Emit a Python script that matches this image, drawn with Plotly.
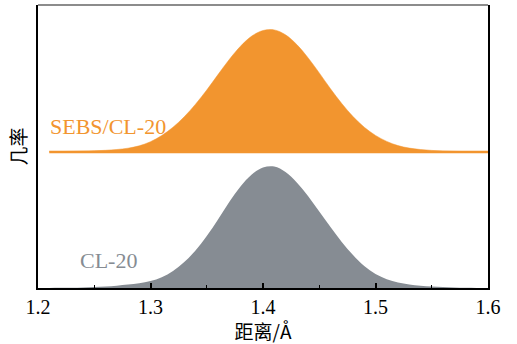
import plotly.graph_objects as go

# Bond-length grid (Å)
distance = [1.20, 1.21, 1.22, 1.23, 1.24, 1.25, 1.26, 1.27, 1.28, 1.29,
            1.30, 1.31, 1.32, 1.33, 1.34, 1.35, 1.36, 1.37, 1.38, 1.39,
            1.40, 1.41, 1.42, 1.43, 1.44, 1.45, 1.46, 1.47, 1.48, 1.49,
            1.50, 1.51, 1.52, 1.53, 1.54, 1.55, 1.56, 1.57, 1.58, 1.59, 1.60]

# Relative probability (arbitrary units)
prob_cl20 = [0, 0.1, 0.2, 0.35, 0.6, 1.0, 1.5, 2.3, 3.4, 4.8,
             7.0, 10.8, 17.0, 26.0, 37.5, 52.0, 68.5, 86.0, 101.5, 113.5,
             120.5, 121.5, 116, 105.5, 92, 76.5, 61, 46, 33, 22,
             14, 8.8, 5.6, 3.6, 2.3, 1.5, 0.95, 0.55, 0.3, 0.12, 0]

prob_sebs = [0, 0.3, 0.45, 0.65, 0.9, 1.2, 1.7, 2.5, 3.8, 6.2,
             10.3, 16.5, 24.8, 35.2, 47.8, 62, 77.4, 92.5, 105.8, 115.9,
             121.5, 122.1, 117.2, 107.5, 94.3, 79.1, 63.2, 48.5, 35.5, 24.8,
             16.6, 10.6, 6.4, 3.9, 2.5, 1.6, 1.0, 0.65, 0.4, 0.25, 0.15]

sebs_offset = 136          # vertical shift of the SEBS/CL-20 curve
y_top = 283

x_ticks = [1.2, 1.3, 1.4, 1.5, 1.6]

ORANGE = "#F2952F"
GREY = "#868C93"
SERIF = '"Liberation Serif", "Times New Roman", serif'
CJK = '"Noto Sans CJK SC", sans-serif'

fig = go.Figure()

# CL-20
fig.add_trace(go.Scatter(
    x=distance, y=prob_cl20, mode="lines", line=dict(color=GREY, width=0, shape="spline"),
    fill="tozeroy", fillcolor=GREY, hoverinfo="skip", showlegend=False))

# SEBS/CL-20 baseline and filled curve
sebs_x = distance[1:]
sebs_y = [v + sebs_offset for v in prob_sebs[1:]]
fig.add_trace(go.Scatter(
    x=[sebs_x[0], sebs_x[-1]], y=[sebs_offset, sebs_offset], mode="lines",
    line=dict(color=ORANGE, width=2.5), hoverinfo="skip", showlegend=False))
fig.add_trace(go.Scatter(
    x=sebs_x, y=sebs_y, mode="lines", line=dict(color=ORANGE, width=0.5, shape="spline"),
    fill="tonexty", fillcolor=ORANGE, hoverinfo="skip", showlegend=False))

fig.add_annotation(x=1.262, y=sebs_offset + 26, text="SEBS/CL-20", showarrow=False,
                   font=dict(family=SERIF, size=22, color=ORANGE))
fig.add_annotation(x=1.263, y=28, text="CL-20", showarrow=False,
                   font=dict(family=SERIF, size=22, color=GREY))

# top border
fig.add_shape(type="line", xref="paper", yref="paper", x0=0, x1=1, y0=1, y1=1,
              line=dict(color="#666666", width=1.5))

fig.update_xaxes(
    range=[1.2, 1.6], tickvals=x_ticks, ticktext=[f"{t:.1f}" for t in x_ticks],
    ticks="inside", ticklen=5, tickwidth=1.5, tickcolor="black",
    minor=dict(dtick=0.05, ticks="inside", ticklen=3, tickwidth=1.2, tickcolor="black"),
    showline=True, linecolor="black", linewidth=2, showgrid=False, zeroline=False,
    tickfont=dict(family=SERIF, size=20, color="black"),
    title=dict(text="距离/Å", font=dict(family=CJK, size=19, color="black"), standoff=6))
fig.update_yaxes(
    range=[0, y_top], showticklabels=False, ticks="", showgrid=False, zeroline=False,
    showline=True, linecolor="black", linewidth=2, mirror=True,
    title=dict(text="几率", font=dict(family=CJK, size=19, color="black"), standoff=4))

fig.update_layout(
    width=517, height=344, margin=dict(l=38, r=29, t=5, b=56),
    paper_bgcolor="white", plot_bgcolor="white")

fig.write_html("out.html")
